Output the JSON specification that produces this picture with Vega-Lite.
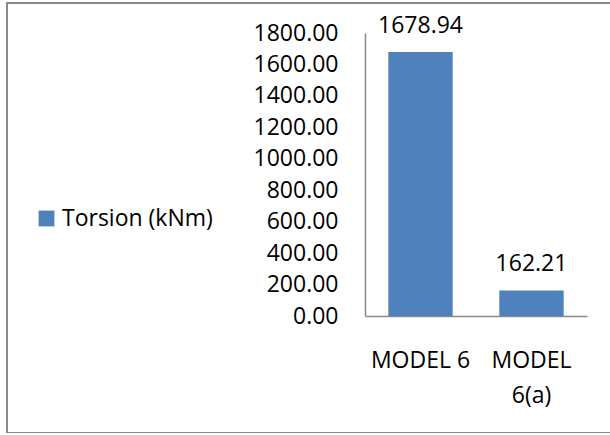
{
  "$schema": "https://vega.github.io/schema/vega-lite/v6.json",
  "autosize": "none",
  "width": 700,
  "height": 430,
  "padding": {"left": 7, "top": 3, "right": 0, "bottom": 0},
  "background": "white",
  "config": {
    "view": {"stroke": "#8a8a8a", "strokeWidth": 2},
    "font": "Open Sans",
    "text": {"font": "Open Sans"}
  },
  "data": {
    "values": [
      {"model": "MODEL 6", "series": "Torsion (kNm)", "torsion": 1678.94},
      {"model": "MODEL 6(a)", "series": "Torsion (kNm)", "torsion": 162.21}
    ]
  },
  "encoding": {
    "x": {
      "field": "model",
      "type": "nominal",
      "sort": null,
      "scale": {"range": [358, 580], "paddingInner": 0.42, "paddingOuter": 0.21},
      "axis": {
        "title": null,
        "orient": "bottom",
        "offset": -117,
        "ticks": false,
        "labelAngle": 0,
        "labelPadding": 33,
        "labelFont": "Open Sans",
        "labelFontSize": 23,
        "labelColor": "#000000",
        "labelLineHeight": 35,
        "labelExpr": "datum.value == 'MODEL 6(a)' ? ['MODEL', '6(a)'] : datum.value",
        "domainColor": "#8a8a8a",
        "domainWidth": 1.5
      }
    },
    "y": {
      "field": "torsion",
      "type": "quantitative",
      "scale": {"domain": [0, 1800], "range": [313, 30], "nice": false, "zero": true},
      "axis": {
        "title": null,
        "orient": "left",
        "offset": -358,
        "values": [0, 200, 400, 600, 800, 1000, 1200, 1400, 1600, 1800],
        "format": ".2f",
        "ticks": false,
        "grid": false,
        "labelPadding": 27,
        "labelFont": "Open Sans",
        "labelFontSize": 23,
        "labelColor": "#000000",
        "domainColor": "#8a8a8a",
        "domainWidth": 1.5
      }
    }
  },
  "layer": [
    {
      "mark": {"type": "bar"},
      "encoding": {
        "color": {
          "field": "series",
          "type": "nominal",
          "scale": {"range": ["#4F81BD"]},
          "legend": {
            "title": null,
            "orient": "none",
            "legendX": 28,
            "legendY": 204,
            "padding": 0,
            "symbolType": "square",
            "symbolSize": 250,
            "symbolStrokeWidth": 0,
            "labelFont": "Open Sans",
            "labelFontSize": 23,
            "labelColor": "#000000",
            "labelOffset": 4,
            "labelLimit": 300
          }
        }
      }
    },
    {
      "mark": {"type": "text", "baseline": "alphabetic", "dy": -19, "fontSize": 23, "font": "Open Sans", "color": "#000000"},
      "encoding": {
        "text": {"field": "torsion", "type": "quantitative", "format": ".2f"}
      }
    }
  ]
}
